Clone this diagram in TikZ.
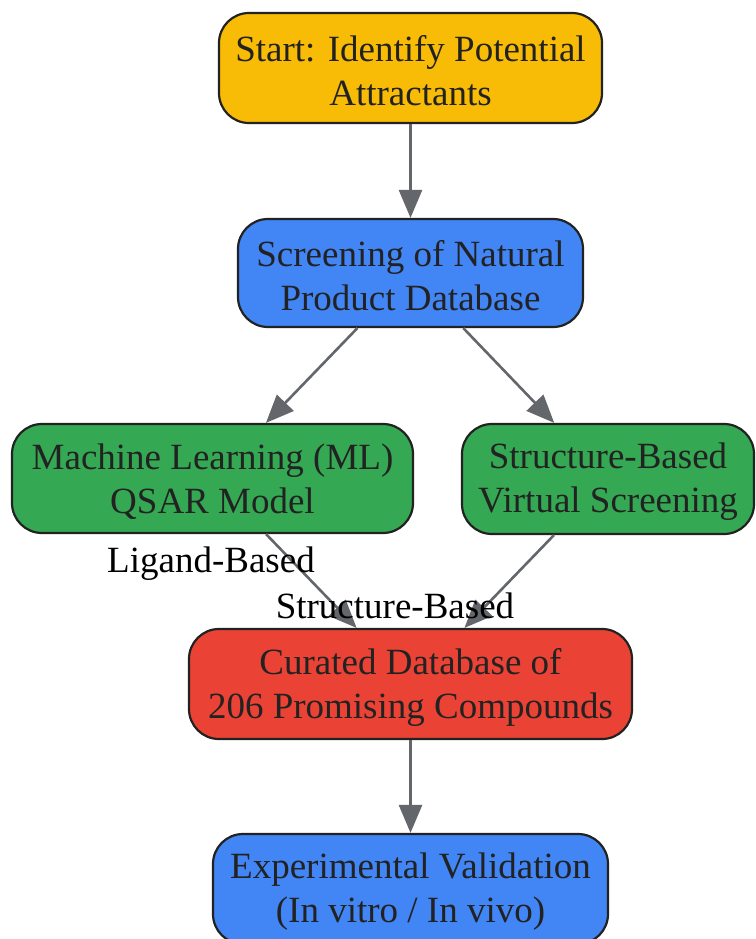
\documentclass[tikz,border=0pt]{standalone}
\usepackage{fontspec}
\setmainfont{Liberation Serif}
\usetikzlibrary{arrows.meta}
\definecolor{cyellow}{HTML}{F9BC06}
\definecolor{cblue}{HTML}{4285F4}
\definecolor{cgreen}{HTML}{34A853}
\definecolor{cred}{HTML}{EA4335}
\definecolor{cedge}{HTML}{63666A}
\definecolor{ctext}{HTML}{222222}
\begin{document}
\begin{tikzpicture}[x=1pt,y=-1pt,
  box/.style={draw=ctext, line width=2.2pt, rounded corners=30pt,
    inner sep=0pt},
  boxtext/.style={align=center, inner sep=0pt, text=ctext, yshift=-3pt,
    font=\fontsize{37}{44}\selectfont},
  conn/.style={draw=cedge, line width=2.6pt, -{Triangle[length=28pt,width=23pt]}},
  elabel/.style={font=\fontsize{37}{44}\selectfont, text=black, inner sep=0pt}]
\clip (0,0) rectangle (755,939);
\fill[white] (0,0) rectangle (755,939);
\node[box, fill=cyellow, minimum width=383pt, minimum height=110pt,
  label={[boxtext]center:{Start: Identify Potential\\Attractants}}] (start) at (410.5,68) {};
\node[box, fill=cblue, minimum width=345pt, minimum height=108pt,
  label={[boxtext]center:{Screening of Natural\\Product Database}}] (screen) at (410.5,273) {};
\node[box, fill=cgreen, minimum width=401pt, minimum height=109pt,
  label={[boxtext]center:{Machine Learning (ML)\\QSAR Model}}] (ml) at (212.5,478.5) {};
\node[box, fill=cgreen, minimum width=292pt, minimum height=110pt,
  label={[boxtext]center:{Structure-Based\\Virtual Screening}}] (sbvs) at (608,479) {};
\node[box, fill=cred, minimum width=443pt, minimum height=110pt,
  label={[boxtext]center:{Curated Database of\\206 Promising Compounds}}] (cur) at (410.5,684) {};
\node[box, fill=cblue, minimum width=395pt, minimum height=110pt,
  label={[boxtext]center:{Experimental Validation\\(In vitro / In vivo)}}] (exp) at (410.5,889) {};
\draw[conn] (start) -- (screen);
\draw[conn] (screen) -- (ml);
\draw[conn] (screen) -- (sbvs);
\draw[conn] (ml) -- (cur);
\draw[conn] (sbvs) -- (cur);
\draw[conn] (cur) -- (exp);
\node[elabel] (lb) at (211,564) {Ligand-Based};
\node[elabel] (sb) at (395,606) {Structure-Based};
\end{tikzpicture}
\end{document}
